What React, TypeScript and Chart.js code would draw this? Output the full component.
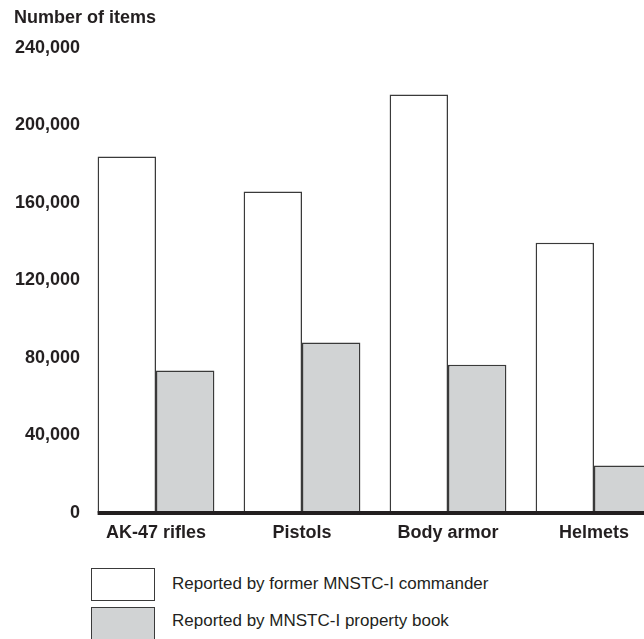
import React, { useEffect, useRef } from "react";
import { Chart, registerables } from "chart.js";

Chart.register(...registerables);

const categories = ["AK-47 rifles", "Pistols", "Body armor", "Helmets"];
const seriesNames = [
  "Reported by former MNSTC-I commander",
  "Reported by MNSTC-I property book",
];
const commanderValues = [184000, 166000, 216000, 139500];
const propertyBookValues = [73500, 88000, 76500, 24500];
const yTickMin = 0;
const yTickMax = 240000;
const yTickStep = 40000;
const yAxisTitle = "Number of items";

const FONT = "'Liberation Sans', Arial, Helvetica, sans-serif";
const INK = "#231f20";
const GRAY = "#d1d3d4";
const EDGE = "#3a3a3a";

const baselinePlugin = {
  id: "baseline",
  afterDatasetsDraw(chart: any) {
    const meta = chart.getDatasetMeta(0);
    const first = meta.data[0];
    if (!first) return;
    const props = first.getProps(["x", "width"], true);
    const left = props.x - props.width / 2;
    const y0 = chart.scales.y.getPixelForValue(0);
    const ctx = chart.ctx;
    ctx.save();
    ctx.strokeStyle = INK;
    ctx.lineWidth = 4;
    ctx.beginPath();
    ctx.moveTo(left, y0);
    ctx.lineTo(chart.chartArea.right, y0);
    ctx.stroke();
    ctx.restore();
  },
};

const axisTitlePlugin = {
  id: "axisTitle",
  afterDraw(chart: any) {
    const ctx = chart.ctx;
    ctx.save();
    ctx.fillStyle = INK;
    ctx.font = `bold 18px ${FONT}`;
    ctx.textAlign = "left";
    ctx.textBaseline = "middle";
    ctx.fillText(yAxisTitle, 14, 18);
    ctx.restore();
  },
};

export default function App() {
  const canvasRef = useRef<HTMLCanvasElement | null>(null);

  useEffect(() => {
    if (!canvasRef.current) return;
    const chart = new Chart(canvasRef.current, {
      type: "bar",
      data: {
        labels: categories,
        datasets: [
          {
            label: seriesNames[0],
            data: commanderValues,
            backgroundColor: "#ffffff",
            borderColor: EDGE,
            borderWidth: 1.5,
          },
          {
            label: seriesNames[1],
            data: propertyBookValues,
            backgroundColor: GRAY,
            borderColor: EDGE,
            borderWidth: 1.5,
          },
        ],
      },
      options: {
        animation: false,
        responsive: false,
        maintainAspectRatio: false,
        layout: { padding: { left: 0, right: 0, top: 48, bottom: 0 } },
        datasets: {
          bar: { categoryPercentage: 0.8, barPercentage: 1.0 },
        } as any,
        plugins: {
          legend: { display: false },
          tooltip: { enabled: false },
          title: { display: false },
        },
        scales: {
          x: {
            offset: true,
            grid: { display: false, drawTicks: false },
            border: { display: false },
            ticks: {
              color: INK,
              padding: 9,
              font: { family: FONT, size: 18, weight: "bold" },
            },
            afterFit(scale: any) {
              scale.height = 47;
            },
          },
          y: {
            min: yTickMin,
            max: yTickMax,
            grid: { display: false, drawTicks: false },
            border: { display: false },
            ticks: {
              stepSize: yTickStep,
              color: INK,
              padding: 3,
              font: { family: FONT, size: 18, weight: "bold" },
              callback: (v: any) => Number(v).toLocaleString("en-US"),
            },
            afterFit(scale: any) {
              scale.width = 83;
            },
          },
        },
      },
      plugins: [baselinePlugin, axisTitlePlugin],
    });
    return () => chart.destroy();
  }, []);

  const legendText: React.CSSProperties = {
    position: "absolute",
    left: 172,
    fontFamily: FONT,
    fontSize: 17,
    color: INK,
    lineHeight: "20px",
    whiteSpace: "nowrap",
  };
  const box: React.CSSProperties = {
    position: "absolute",
    left: 91,
    width: 62,
    height: 31,
    border: `1px solid ${EDGE}`,
  };

  return (
    <div
      style={{
        position: "absolute",
        left: 0,
        top: 0,
        width: 644,
        height: 639,
        overflow: "hidden",
        background: "#ffffff",
      }}
    >
      <canvas
        ref={canvasRef}
        width={667}
        height={560}
        style={{ position: "absolute", left: 0, top: 0, width: 667, height: 560 }}
      />
      <div style={{ ...box, top: 568, background: "#ffffff" }} />
      <div style={{ ...box, top: 607, height: 40, background: GRAY }} />
      <div style={{ ...legendText, top: 574 }}>{seriesNames[0]}</div>
      <div style={{ ...legendText, top: 611 }}>{seriesNames[1]}</div>
    </div>
  );
}
